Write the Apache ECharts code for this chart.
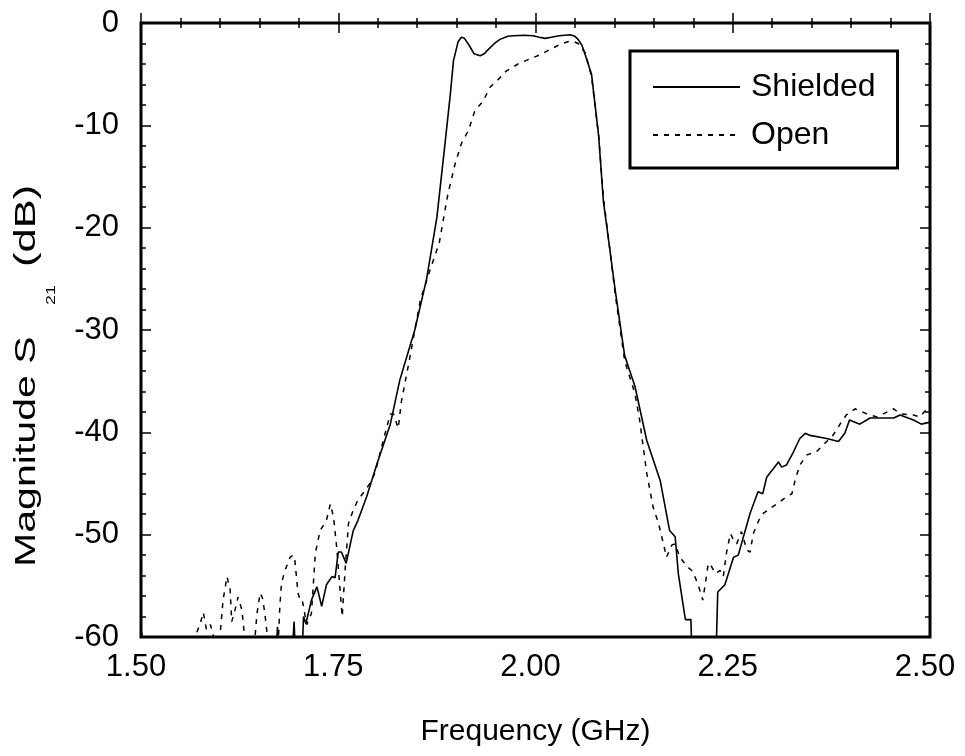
<!DOCTYPE html>
<html><head><meta charset="utf-8">
<script src="https://cdn.jsdelivr.net/npm/echarts@6/dist/echarts.min.js"></script>
<style>html,body{margin:0;padding:0;background:#fff}#c{width:965px;height:756px}</style>
</head><body><div id="c"></div>
<script>
// ---- data ----
const xTickLabels = ['1.50', '1.75', '2.00', '2.25', '2.50'];
const yTickLabels = ['-60', '-50', '-40', '-30', '-20', '-10', '0'];
const seriesNames = ['Shielded', 'Open'];
const yTitleParts = ['Magnitude S', '21', '(dB)'];

const shieldedFreq = [1.500, 1.600, 1.670, 1.673, 1.675, 1.690, 1.694, 1.697, 1.703, 1.706, 1.709, 1.716, 1.723, 1.729, 1.735, 1.742, 1.746, 1.750, 1.754, 1.760, 1.769, 1.775, 1.786, 1.799, 1.816, 1.828, 1.847, 1.862, 1.875, 1.885, 1.892, 1.896, 1.902, 1.906, 1.910, 1.916, 1.922, 1.930, 1.935, 1.940, 1.948, 1.955, 1.965, 1.972, 1.985, 1.997, 2.005, 2.012, 2.020, 2.030, 2.044, 2.050, 2.054, 2.059, 2.063, 2.071, 2.080, 2.086, 2.094, 2.101, 2.113, 2.126, 2.141, 2.158, 2.170, 2.177, 2.181, 2.190, 2.197, 2.199, 2.228, 2.231, 2.240, 2.251, 2.257, 2.272, 2.282, 2.288, 2.293, 2.308, 2.312, 2.318, 2.327, 2.335, 2.342, 2.348, 2.369, 2.384, 2.392, 2.398, 2.411, 2.424, 2.454, 2.462, 2.479, 2.489, 2.500];
const shieldedDb = [-75, -75, -64, -59, -64, -64, -58.5, -64, -64, -58.0, -58.7, -56.4, -55.1, -57.0, -54.9, -54.1, -54.2, -51.7, -51.7, -52.8, -49.6, -48.6, -46.3, -43.1, -39.2, -34.9, -30.0, -25.0, -19.0, -12.0, -7.0, -3.7, -1.8, -1.4, -1.5, -2.2, -3.0, -3.2, -3.0, -2.6, -2.0, -1.6, -1.3, -1.25, -1.2, -1.25, -1.4, -1.5, -1.4, -1.25, -1.15, -1.3, -1.6, -2.2, -3.1, -5.0, -11.0, -17.4, -22.0, -26.1, -32.5, -35.5, -40.8, -44.7, -49.6, -50.2, -53.8, -58.3, -58.3, -64, -64, -55.6, -54.9, -52.2, -52.0, -47.9, -45.8, -46.0, -44.4, -42.9, -43.4, -43.2, -41.9, -40.6, -40.1, -40.3, -40.6, -40.9, -40.1, -38.8, -39.2, -38.6, -38.6, -38.3, -38.8, -39.2, -39.0];

const openFreq = [1.500, 1.503, 1.560, 1.566, 1.575, 1.579, 1.583, 1.588, 1.594, 1.600, 1.604, 1.609, 1.613, 1.615, 1.619, 1.623, 1.628, 1.632, 1.644, 1.647, 1.651, 1.654, 1.657, 1.661, 1.674, 1.676, 1.678, 1.682, 1.689, 1.693, 1.695, 1.699, 1.701, 1.704, 1.710, 1.716, 1.721, 1.727, 1.735, 1.740, 1.744, 1.748, 1.752, 1.755, 1.759, 1.763, 1.769, 1.775, 1.784, 1.790, 1.797, 1.807, 1.816, 1.820, 1.826, 1.830, 1.840, 1.854, 1.866, 1.878, 1.889, 1.898, 1.906, 1.915, 1.923, 1.934, 1.942, 1.953, 1.963, 1.978, 1.993, 2.006, 2.018, 2.031, 2.042, 2.048, 2.054, 2.063, 2.071, 2.080, 2.086, 2.094, 2.101, 2.113, 2.126, 2.132, 2.141, 2.149, 2.156, 2.164, 2.166, 2.173, 2.177, 2.183, 2.192, 2.198, 2.202, 2.207, 2.212, 2.216, 2.219, 2.223, 2.228, 2.234, 2.238, 2.242, 2.247, 2.251, 2.255, 2.261, 2.268, 2.272, 2.276, 2.283, 2.289, 2.298, 2.308, 2.318, 2.325, 2.329, 2.335, 2.344, 2.356, 2.369, 2.377, 2.386, 2.394, 2.405, 2.420, 2.433, 2.454, 2.462, 2.479, 2.487, 2.494, 2.500];
const openDb = [-58.5, -62, -64, -60.5, -58.7, -57.6, -59.3, -58.8, -60.5, -60.0, -56.4, -54.1, -55.4, -58.5, -57.4, -56.1, -57.4, -60.5, -60.5, -57.7, -55.7, -56.2, -57.7, -60.5, -60.5, -57.0, -54.8, -53.6, -52.2, -52.0, -52.5, -55.7, -56.2, -56.2, -58.8, -57.7, -51.8, -49.6, -48.6, -47.0, -48.3, -51.2, -55.1, -58.0, -53.1, -48.9, -47.6, -46.6, -45.7, -45.0, -43.9, -40.8, -38.2, -38.2, -39.6, -37.0, -33.0, -27.1, -24.2, -21.5, -16.7, -13.8, -11.8, -10.5, -8.6, -7.6, -6.3, -5.5, -4.7, -4.0, -3.5, -3.1, -2.6, -2.1, -1.8, -1.8, -2.0, -2.9, -5.2, -11.0, -17.0, -22.0, -26.5, -33.0, -36.2, -38.8, -44.0, -47.3, -48.9, -51.5, -52.2, -51.0, -50.9, -52.2, -53.1, -53.5, -54.1, -55.1, -56.4, -54.4, -52.8, -53.1, -53.8, -53.5, -54.1, -51.8, -49.9, -50.5, -50.9, -49.7, -51.5, -51.7, -49.9, -48.6, -47.9, -47.4, -46.9, -46.3, -46.0, -44.7, -43.2, -42.2, -41.9, -40.9, -40.3, -39.2, -38.3, -37.7, -38.2, -38.5, -37.7, -38.2, -38.3, -38.5, -37.9, -38.2];

// ---- chart ----
const FONT = '"Liberation Sans", Arial, Helvetica, sans-serif';
const X_MIN = 1.5, X_MAX = 2.5, Y_MIN = -60, Y_MAX = 0;

function pairs(xs, ys) { return xs.map((x, i) => [x, ys[i]]); }
function xLabel(v) { const i = Math.round((v - X_MIN) / 0.25); return xTickLabels[i] || ''; }
function yLabel(v) { const i = Math.round((v - Y_MIN) / 10); return yTickLabels[i] || ''; }

function xAx(pos, interval, len, labels) {
  return {
    type: 'value', position: pos, min: X_MIN, max: X_MAX, interval: interval,
    axisLine: { show: false }, splitLine: { show: false },
    axisTick: { show: true, inside: true, length: len, lineStyle: { color: '#000', width: 1.5 } },
    axisLabel: labels ? { show: true, fontSize: 31, color: '#000', fontFamily: FONT, margin: 15,
      padding: [0, 10, 0, 0], formatter: xLabel, showMinLabel: true, showMaxLabel: true } : { show: false }
  };
}
function yAx(pos, interval, len, labels) {
  return {
    type: 'value', position: pos, min: Y_MIN, max: Y_MAX, interval: interval,
    axisLine: { show: false }, splitLine: { show: false },
    axisTick: { show: true, inside: true, length: len, lineStyle: { color: '#000', width: 1.5 } },
    axisLabel: labels ? { show: true, fontSize: 31, color: '#000', fontFamily: FONT, margin: 22,
      formatter: yLabel, showMinLabel: true, showMaxLabel: true } : { show: false }
  };
}

const xMain = xAx('bottom', 0.25, 10, true);
xMain.name = 'Frequency (GHz)';
xMain.nameLocation = 'middle';
xMain.nameGap = 80;
xMain.nameTextStyle = { fontSize: 30, color: '#000', fontFamily: FONT };

function vText(str, x, y, size, scale) {
  return {
    type: 'text', x: x, y: y, rotation: Math.PI / 2, scaleX: scale, silent: true,
    style: { text: str, fontSize: size, fontFamily: FONT, fill: '#000', align: 'left', verticalAlign: 'middle' }
  };
}

const chart = echarts.init(document.getElementById('c'), null, { renderer: 'canvas' });
chart.setOption({
  animation: false,
  backgroundColor: '#fff',
  grid: { show: true, left: 141, top: 23, width: 789, height: 614, borderColor: '#000', borderWidth: 3, backgroundColor: 'transparent' },
  xAxis: [xMain, xAx('bottom', 0.05, 5, false), xAx('top', 0.25, 10, false), xAx('top', 0.05, 5, false)],
  yAxis: [yAx('left', 10, 10, true), yAx('left', 2, 5, false), yAx('right', 10, 10, false), yAx('right', 2, 5, false)],
  legend: {
    data: seriesNames, orient: 'vertical', left: 630, top: 51,
    padding: [20, 22, 17, 22], itemWidth: 87, itemHeight: 32, itemGap: 16,
    borderColor: '#000', borderWidth: 3, backgroundColor: '#fff',
    itemStyle: { opacity: 0 },
    textStyle: { fontSize: 32, color: '#000', fontFamily: FONT, lineHeight: 32, padding: [0, 0, 0, 6] }
  },
  graphic: [
    vText(yTitleParts[0], 27, 567, 30, 1.37),
    vText(yTitleParts[1], 51, 305, 13, 1.37),
    vText(yTitleParts[2], 27, 267, 30, 1.45)
  ],
  series: [
    { name: seriesNames[0], type: 'line', data: pairs(shieldedFreq, shieldedDb), symbol: 'none', clip: true,
      lineStyle: { color: '#000', width: 1.6, type: 'solid' }, itemStyle: { color: '#000' } },
    { name: seriesNames[1], type: 'line', data: pairs(openFreq, openDb), symbol: 'none', clip: true,
      lineStyle: { color: '#000', width: 1.5, type: [5, 6] }, itemStyle: { color: '#000' } }
  ]
});
</script></body></html>
